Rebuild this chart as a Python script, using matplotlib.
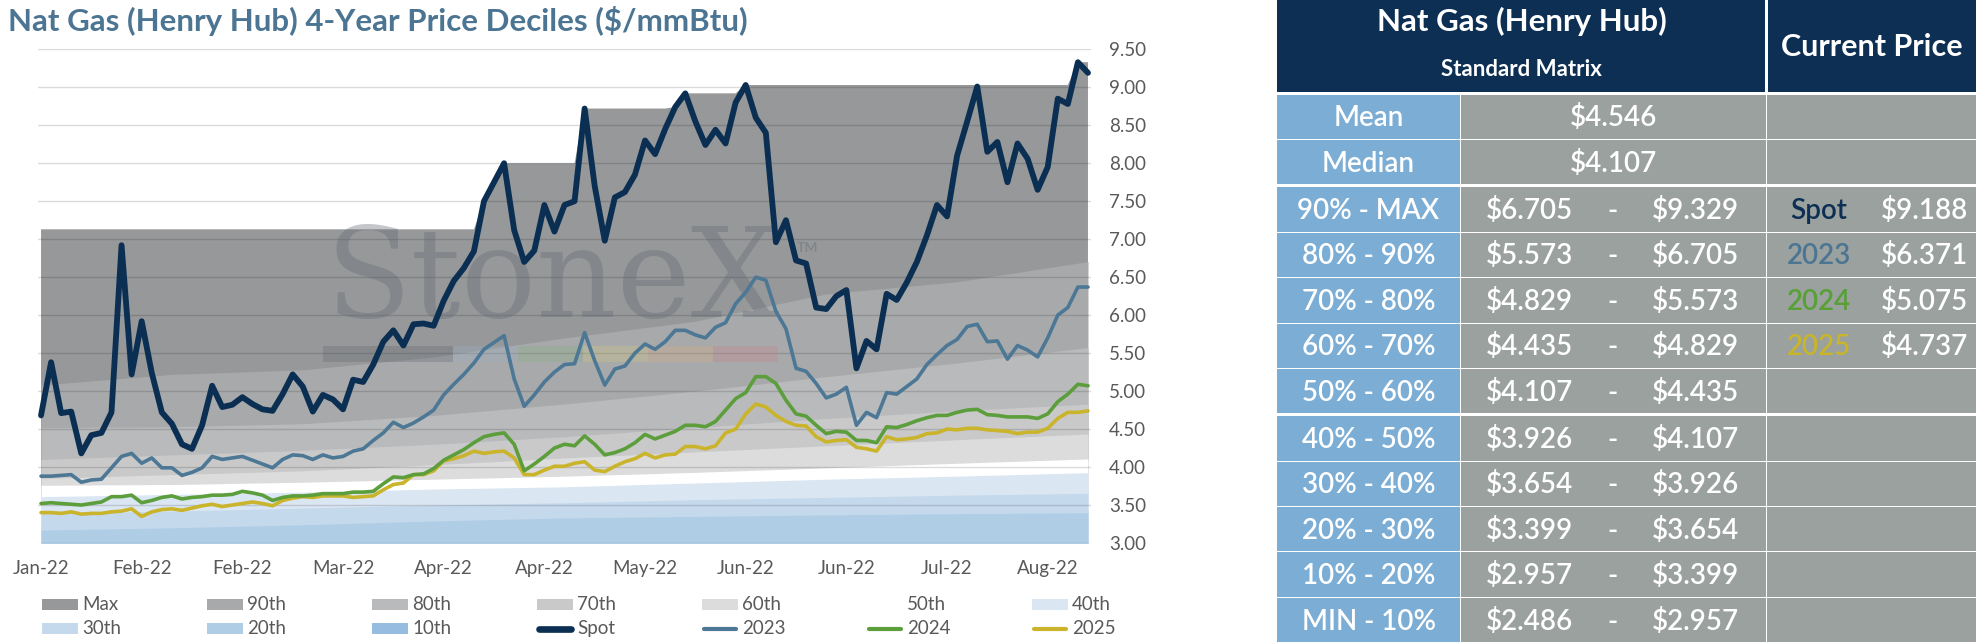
import numpy as np
import matplotlib
matplotlib.use("Agg")
import matplotlib.pyplot as plt
from matplotlib.patches import Rectangle
from matplotlib.lines import Line2D

FONT = ["Lato", "DejaVu Sans"]
plt.rcParams["font.family"] = FONT

# ---------------- data ----------------
title = "Nat Gas (Henry Hub) 4-Year Price Deciles ($/mmBtu)"
x_labels = ["Jan-22", "Feb-22", "Feb-22", "Mar-22", "Apr-22", "Apr-22",
            "May-22", "Jun-22", "Jun-22", "Jul-22", "Aug-22"]
LABEL_EVERY = 10

spot = [4.68, 5.38, 4.71, 4.73, 4.18, 4.42, 4.45, 4.72, 6.92, 5.22,
        5.92, 5.24, 4.72, 4.57, 4.30, 4.24, 4.55, 5.07, 4.79, 4.82,
        4.92, 4.83, 4.76, 4.74, 4.96, 5.22, 5.06, 4.73, 4.95, 4.89,
        4.76, 5.15, 5.12, 5.35, 5.65, 5.80, 5.60, 5.88, 5.89, 5.86,
        6.19, 6.45, 6.62, 6.84, 7.50, 7.75, 8.00, 7.12, 6.70, 6.85,
        7.45, 7.10, 7.45, 7.50, 8.72, 7.70, 6.98, 7.55, 7.62, 7.85,
        8.30, 8.12, 8.45, 8.74, 8.92, 8.55, 8.24, 8.44, 8.26, 8.80,
        9.03, 8.60, 8.40, 6.96, 7.25, 6.72, 6.68, 6.10, 6.08, 6.25,
        6.33, 5.30, 5.66, 5.55, 6.28, 6.20, 6.43, 6.70, 7.05, 7.45,
        7.30, 8.10, 8.55, 9.01, 8.15, 8.28, 7.75, 8.26, 8.06, 7.65,
        7.95, 8.85, 8.78, 9.33, 9.19]

s2023 = [3.88, 3.88, 3.89, 3.90, 3.80, 3.83, 3.84, 3.99, 4.14, 4.18,
         4.05, 4.12, 3.99, 3.99, 3.89, 3.93, 3.99, 4.14, 4.10, 4.12,
         4.14, 4.09, 4.04, 3.99, 4.10, 4.16, 4.15, 4.10, 4.16, 4.12,
         4.14, 4.21, 4.24, 4.35, 4.45, 4.59, 4.52, 4.58, 4.66, 4.75,
         4.95, 5.09, 5.22, 5.37, 5.55, 5.64, 5.73, 5.16, 4.80, 4.95,
         5.12, 5.25, 5.35, 5.36, 5.77, 5.40, 5.08, 5.29, 5.33, 5.50,
         5.62, 5.55, 5.65, 5.80, 5.80, 5.74, 5.70, 5.84, 5.90, 6.15,
         6.30, 6.50, 6.46, 6.05, 5.82, 5.30, 5.26, 5.10, 4.91, 4.96,
         5.05, 4.55, 4.72, 4.65, 4.98, 4.96, 5.06, 5.16, 5.35, 5.48,
         5.60, 5.68, 5.85, 5.88, 5.65, 5.66, 5.42, 5.60, 5.54, 5.45,
         5.70, 6.00, 6.10, 6.37, 6.37]

s2024 = [3.52, 3.53, 3.52, 3.51, 3.50, 3.52, 3.54, 3.61, 3.61, 3.63,
         3.53, 3.56, 3.60, 3.62, 3.58, 3.60, 3.61, 3.63, 3.63, 3.64,
         3.68, 3.66, 3.63, 3.56, 3.60, 3.62, 3.62, 3.63, 3.65, 3.65,
         3.65, 3.67, 3.67, 3.68, 3.78, 3.87, 3.86, 3.90, 3.91, 3.98,
         4.09, 4.16, 4.23, 4.32, 4.40, 4.43, 4.45, 4.30, 3.95, 4.04,
         4.14, 4.25, 4.30, 4.28, 4.41, 4.30, 4.16, 4.19, 4.24, 4.32,
         4.43, 4.37, 4.42, 4.47, 4.55, 4.55, 4.53, 4.60, 4.75, 4.90,
         4.98, 5.19, 5.19, 5.10, 4.88, 4.70, 4.67, 4.55, 4.44, 4.47,
         4.46, 4.35, 4.35, 4.32, 4.53, 4.52, 4.56, 4.61, 4.65, 4.68,
         4.68, 4.72, 4.75, 4.76, 4.69, 4.68, 4.66, 4.66, 4.66, 4.64,
         4.70, 4.86, 4.96, 5.09, 5.07]

s2025 = [3.40, 3.40, 3.39, 3.41, 3.38, 3.39, 3.39, 3.41, 3.42, 3.45,
         3.35, 3.41, 3.44, 3.45, 3.43, 3.46, 3.49, 3.51, 3.48, 3.50,
         3.52, 3.54, 3.52, 3.49, 3.56, 3.59, 3.61, 3.60, 3.62, 3.62,
         3.62, 3.60, 3.61, 3.62, 3.70, 3.77, 3.79, 3.90, 3.90, 3.95,
         4.08, 4.11, 4.15, 4.21, 4.18, 4.20, 4.21, 4.12, 3.90, 3.90,
         3.96, 4.01, 4.01, 4.05, 4.07, 3.96, 3.94, 4.01, 4.07, 4.11,
         4.18, 4.12, 4.16, 4.17, 4.27, 4.27, 4.24, 4.28, 4.45, 4.50,
         4.70, 4.83, 4.79, 4.68, 4.60, 4.55, 4.54, 4.40, 4.33, 4.35,
         4.36, 4.26, 4.24, 4.21, 4.40, 4.36, 4.37, 4.39, 4.44, 4.45,
         4.50, 4.49, 4.51, 4.51, 4.49, 4.48, 4.47, 4.44, 4.46, 4.46,
         4.51, 4.64, 4.72, 4.72, 4.74]

band_max = [7.13, 7.13, 7.13, 7.13, 7.13, 7.13, 7.13, 7.13, 7.13, 7.13,
            7.13, 7.13, 7.13, 7.13, 7.13, 7.13, 7.13, 7.13, 7.13, 7.13,
            7.13, 7.13, 7.13, 7.13, 7.13, 7.13, 7.13, 7.13, 7.13, 7.13,
            7.13, 7.13, 7.13, 7.13, 7.13, 7.13, 7.13, 7.13, 7.13, 7.13,
            7.13, 7.13, 7.13, 7.13, 7.50, 7.75, 8.00, 8.00, 8.00, 8.00,
            8.00, 8.00, 8.00, 8.00, 8.72, 8.72, 8.72, 8.72, 8.72, 8.72,
            8.72, 8.72, 8.72, 8.74, 8.92, 8.92, 8.92, 8.92, 8.92, 8.92,
            9.03, 9.03, 9.03, 9.03, 9.03, 9.03, 9.03, 9.03, 9.03, 9.03,
            9.03, 9.03, 9.03, 9.03, 9.03, 9.03, 9.03, 9.03, 9.03, 9.03,
            9.03, 9.03, 9.03, 9.03, 9.03, 9.03, 9.03, 9.03, 9.03, 9.03,
            9.03, 9.03, 9.03, 9.33, 9.33]

band_idx = [0, 13, 26, 39, 52, 65, 78, 91, 104]
p90 = [5.08, 5.22, 5.28, 5.45, 5.70, 5.92, 6.28, 6.44, 6.705]
p80 = [4.52, 4.53, 4.57, 4.68, 4.83, 5.00, 5.19, 5.37, 5.573]
p70 = [4.10, 4.16, 4.22, 4.30, 4.40, 4.52, 4.64, 4.74, 4.829]
p60 = [3.85, 3.90, 3.95, 4.03, 4.12, 4.20, 4.28, 4.36, 4.435]
p50 = [3.76, 3.77, 3.80, 3.84, 3.88, 3.93, 3.99, 4.05, 4.107]
p40 = [3.61, 3.64, 3.67, 3.71, 3.74, 3.79, 3.84, 3.88, 3.926]
p30 = [3.39, 3.42, 3.46, 3.50, 3.53, 3.57, 3.60, 3.63, 3.654]
p20 = [3.17, 3.20, 3.24, 3.29, 3.33, 3.35, 3.37, 3.385, 3.399]
p10 = [2.70, 2.74, 2.78, 2.82, 2.86, 2.89, 2.92, 2.94, 2.957]

y_ticks = [3.0, 3.5, 4.0, 4.5, 5.0, 5.5, 6.0, 6.5, 7.0, 7.5, 8.0, 8.5, 9.0, 9.5]

# table data
stat_labels = ["Mean", "Median"]
stat_values = [4.546, 4.107]
range_labels = ["90% - MAX", "80% - 90%", "70% - 80%", "60% - 70%", "50% - 60%",
                "40% - 50%", "30% - 40%", "20% - 30%", "10% - 20%", "MIN - 10%"]
range_low = [6.705, 5.573, 4.829, 4.435, 4.107, 3.926, 3.654, 3.399, 2.957, 2.486]
range_high = [9.329, 6.705, 5.573, 4.829, 4.435, 4.107, 3.926, 3.654, 3.399, 2.957]
current_names = ["Spot", "2023", "2024", "2025"]
current_prices = [9.188, 6.371, 5.075, 4.737]

# ---------------- styles ----------------
band_colors = {
    "Max": "#97989a", "90th": "#a8a9ab", "80th": "#b9babc", "70th": "#c9c9ca",
    "60th": "#dcdcdc", "50th": "#ffffff", "40th": "#dae6f2", "30th": "#c4d9ec",
    "20th": "#b0cde6", "10th": "#96bde0",
}
line_styles = {
    "Spot": dict(color="#0b2f52", lw=4.2),
    "2023": dict(color="#4c7895", lw=2.6),
    "2024": dict(color="#5b9e3b", lw=2.6),
    "2025": dict(color="#c9b42c", lw=2.6),
}
NAVY = "#0c2f53"
LBLUE = "#7badd5"
GRAYCELL = "#9aa19f"
TXT = "#595959"

W, H = 1976, 642
fig = plt.figure(figsize=(W / 100, H / 100), dpi=100)
fig.patch.set_facecolor("white")

# ---------------- chart ----------------
L, R, T, B = 38, 1091, 49.3, 543
ax = fig.add_axes([L / W, (H - B) / H, (R - L) / W, (B - T) / H])
ax.set_xlim(-0.3, 104.3)
ax.set_ylim(3.0, 9.5)
k = np.arange(len(spot))

ax.fill_between(k, 0, band_max, color=band_colors["Max"], lw=0, zorder=1)
for vals, name in [(p90, "90th"), (p80, "80th"), (p70, "70th"), (p60, "60th"),
                   (p50, "50th"), (p40, "40th"), (p30, "30th"), (p20, "20th"),
                   (p10, "10th")]:
    ax.fill_between(band_idx, 0, vals, color=band_colors[name], lw=0, zorder=1)

# watermark
ax.text(0.2726, 0.458, "StoneX", transform=ax.transAxes, fontsize=90,
        family="DejaVu Serif", color="#646b72", alpha=0.38, va="baseline",
        ha="left", zorder=2.6)
ax.text(0.7208, 0.59, "TM", transform=ax.transAxes, fontsize=10,
        color="#646b72", alpha=0.4, fontweight="bold", zorder=2.6)
seg_cols = ["#5f666d", "#5f666d", "#98aec4", "#86ad80", "#d6cc80", "#d8ac80", "#c98088"]
seg_w = (0.7028 - 0.2707) / len(seg_cols)
for i, c in enumerate(seg_cols):
    ax.add_patch(Rectangle((0.2707 + i * seg_w, 0.3666), seg_w, 0.0324,
                           transform=ax.transAxes, color=c, alpha=0.3, lw=0,
                           zorder=2.6))

for name, vals in [("2025", s2025), ("2024", s2024), ("2023", s2023), ("Spot", spot)]:
    st = line_styles[name]
    ax.plot(k, vals, color=st["color"], lw=st["lw"], zorder=5 if name == "Spot" else 4,
            solid_joinstyle="round", solid_capstyle="round")

ax.set_yticks(y_ticks)
ax.set_yticklabels([f"{v:.2f}" for v in y_ticks])
ax.yaxis.tick_right()
ax.set_xticks(range(0, LABEL_EVERY * len(x_labels), LABEL_EVERY))
ax.set_xticklabels(x_labels)
ax.tick_params(axis="both", length=0, labelsize=13.5, labelcolor=TXT)
ax.tick_params(axis="y", pad=13)
ax.tick_params(axis="x", pad=12)
ax.grid(axis="y", color="black", alpha=0.14, lw=1.0)
ax.set_axisbelow(False)
for s in ax.spines.values():
    s.set_visible(False)
ax.patch.set_alpha(0)

# ---------------- overlay (title, legend, table) ----------------
ov = fig.add_axes([0, 0, 1, 1])
ov.set_xlim(0, W)
ov.set_ylim(H, 0)
ov.axis("off")
ov.patch.set_alpha(0)

ov.text(8, 30.5, title, fontsize=22.5, fontweight="bold", color="#4b7592",
        va="baseline", ha="left")

legend_rows = [["Max", "90th", "80th", "70th", "60th", "50th", "40th"],
               ["30th", "20th", "10th", "Spot", "2023", "2024", "2025"]]
row_y = [604.5, 628.5]
for r, names in enumerate(legend_rows):
    for c, name in enumerate(names):
        cx = 42 + 165 * c
        cy = row_y[r]
        if name in band_colors:
            ov.add_patch(Rectangle((cx, cy - 5.5), 36, 11, color=band_colors[name], lw=0))
        else:
            st = line_styles[name]
            ov.add_line(Line2D([cx + 2, cx + 34], [cy, cy], color=st["color"],
                               lw=st["lw"] + (0.6 if name == "Spot" else 0.4),
                               solid_capstyle="round"))
        ov.text(cx + 40, cy, name, fontsize=13.5, color=TXT, va="center", ha="left")

# table
c0, c1, c2, c3 = 1277, 1460, 1766, 1976
ov.add_patch(Rectangle((c0, 0), c2 - 1 - c0, 92, color=NAVY, lw=0))
ov.add_patch(Rectangle((c2 + 2, 0), c3 - c2 - 2, 92, color=NAVY, lw=0))
ov.text((c0 + c2) / 2, 30.5, "Nat Gas (Henry Hub)", fontsize=22.5, fontweight="bold",
        color="white", ha="center", va="baseline")
ov.text((c0 + c2) / 2, 76, "Standard Matrix", fontsize=16, fontweight="bold",
        color="white", ha="center", va="baseline")
ov.text((c2 + c3) / 2 + 1, 55.5, "Current Price", fontsize=22, fontweight="bold",
        color="white", ha="center", va="baseline")

labels_all = stat_labels + range_labels
row_h = 44.4
y = 94.5
rows = []
for i in range(len(labels_all)):
    if i in (2, 7):
        y += 2
    rows.append(y)
    y += row_h + 1

name_cols = {"Spot": NAVY, "2023": "#4b7593", "2024": "#56a034", "2025": "#c8b52a"}
FS = 20
FW = "semibold"
for i, lab in enumerate(labels_all):
    top = rows[i]
    ov.add_patch(Rectangle((c0, top), c1 - c0, row_h, color=LBLUE, lw=0))
    ov.add_patch(Rectangle((c1 + 1, top), c2 - c1 - 1, row_h, color=GRAYCELL, lw=0))
    ov.add_patch(Rectangle((c2 + 1, top), c3 - c2 - 1, row_h, color=GRAYCELL, lw=0))
    base = top + row_h / 2 + 9.5
    ov.text((c0 + c1) / 2, base, lab, fontsize=FS, fontweight=FW, color="white",
            ha="center", va="baseline")
    if i < 2:
        ov.text((c1 + c2) / 2, base, f"${stat_values[i]:.3f}", fontsize=FS, fontweight=FW,
                color="white", ha="center", va="baseline")
    else:
        j = i - 2
        ov.text(1529, base, f"${range_low[j]:.3f}", fontsize=FS, fontweight=FW,
                color="white", ha="center", va="baseline")
        ov.text(1612, base, "-", fontsize=FS, fontweight=FW, color="white",
                ha="center", va="baseline")
        ov.text(1695, base, f"${range_high[j]:.3f}", fontsize=FS, fontweight=FW,
                color="white", ha="center", va="baseline")
        if j < len(current_names):
            nm = current_names[j]
            ov.text(1819, base, nm, fontsize=FS, fontweight=FW, color=name_cols[nm],
                    ha="center", va="baseline")
            ov.text(1924, base, f"${current_prices[j]:.3f}", fontsize=FS, fontweight=FW,
                    color="white", ha="center", va="baseline")

fig.savefig("out.png", dpi=100)
